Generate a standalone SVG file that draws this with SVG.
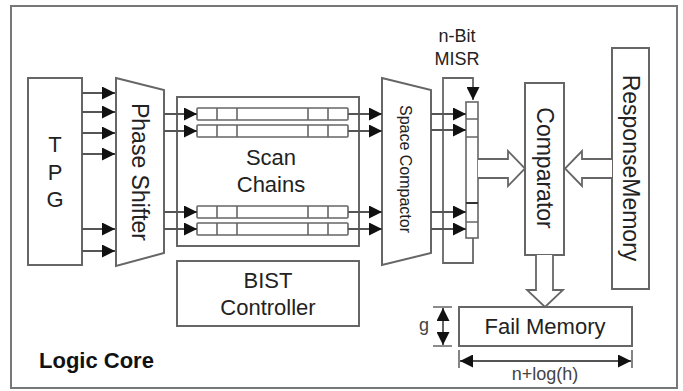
<svg xmlns="http://www.w3.org/2000/svg" width="683" height="391" viewBox="0 0 683 391">
  <defs>
    <marker id="arrow" markerUnits="userSpaceOnUse" markerWidth="13" markerHeight="13" refX="13" refY="6.5" orient="auto-start-reverse">
      <path d="M0,0 L13,6.5 L0,13 z" fill="#111"/>
    </marker>
    <style>
      .box { fill: #fff; stroke: #666; stroke-width: 2; }
      .cell { fill: #fff; stroke: #666; stroke-width: 1.6; }
      .div { stroke: #666; stroke-width: 1.6; }
      .wire { fill: none; stroke: #555; stroke-width: 1.8; marker-end: url(#arrow); }
      .dim { fill: none; stroke: #555; stroke-width: 1.8; marker-start: url(#arrow); marker-end: url(#arrow); }
      .tick { stroke: #666; stroke-width: 1.6; }
      .block { fill: #fff; stroke: #666; stroke-width: 1.8; stroke-linejoin: miter; }
      .lbl { font-family: "Liberation Sans", Arial, sans-serif; fill: #222; text-anchor: middle; }
      .big { font-size: 22px; }
      .small { font-size: 18px; fill: #444; }
    </style>
  </defs>

  <rect width="683" height="391" fill="#fff"/>

  <!-- logic core frame -->
  <g id="logic-core">
    <rect x="11" y="6" width="666" height="382" fill="none" stroke="#777" stroke-width="2"/>
    <text class="lbl" x="39" y="368" style="text-anchor:start;font-size:22px;font-weight:bold;fill:#111">Logic Core</text>
  </g>

  <!-- test pattern generator -->
  <g id="tpg">
    <rect class="box" x="28" y="78" width="54" height="187"/>
    <text class="lbl big" x="55" y="152">T</text>
    <text class="lbl big" x="55" y="180">P</text>
    <text class="lbl big" x="55" y="207">G</text>
  </g>

  <!-- phase shifter -->
  <g id="phase-shifter">
    <polygon class="box" points="116,78 164,90 164,253 116,266"/>
    <text class="lbl" x="140" y="172" dy="0.35em" font-size="23" transform="rotate(90 140 172)">Phase Shifter</text>
  </g>

  <!-- scan chains -->
  <g id="scan-chains">
    <rect class="box" x="177" y="97" width="182" height="149"/>
    <g id="chain-1">
      <rect class="cell" x="197" y="108" width="151" height="12" rx="1"/>
      <path class="div" d="M217,108V120M237,108V120M308,108V120M328,108V120"/>
    </g>
    <g id="chain-2">
      <rect class="cell" x="197" y="125" width="151" height="12" rx="1"/>
      <path class="div" d="M217,125V137M237,125V137M308,125V137M328,125V137"/>
    </g>
    <g id="chain-3">
      <rect class="cell" x="197" y="206" width="151" height="12" rx="1"/>
      <path class="div" d="M217,206V218M237,206V218M308,206V218M328,206V218"/>
    </g>
    <g id="chain-4">
      <rect class="cell" x="197" y="223" width="151" height="12" rx="1"/>
      <path class="div" d="M217,223V235M237,223V235M308,223V235M328,223V235"/>
    </g>
    <text class="lbl big" x="271" y="165">Scan</text>
    <text class="lbl big" x="271" y="192">Chains</text>
  </g>

  <!-- BIST controller -->
  <g id="bist-controller">
    <rect class="box" x="177" y="261" width="182" height="65"/>
    <text class="lbl big" x="268" y="288">BIST</text>
    <text class="lbl big" x="268" y="315">Controller</text>
  </g>

  <!-- space compactor -->
  <g id="space-compactor">
    <polygon class="box" points="382,78 431,90 431,253 382,265"/>
    <text class="lbl" x="406" y="169" dy="0.35em" font-size="16" fill="#333" transform="rotate(90 406 169)">Space Compactor</text>
  </g>

  <!-- n-bit MISR with feedback loop -->
  <g id="misr">
    <text class="lbl" x="457" y="42" font-size="18" fill="#333">n-Bit</text>
    <text class="lbl" x="457" y="65" font-size="18" fill="#333">MISR</text>
    <path d="M473,238 V263 H443 V78 H473 V100" fill="none" stroke="#666" stroke-width="1.8" marker-end="url(#arrow)"/>
    <rect class="cell" x="466" y="102" width="12" height="136"/>
    <path class="div" d="M466,119H478M466,137H478M466,222H478"/>
    <path d="M466,203H478" stroke="#333" stroke-width="2"/>
  </g>

  <!-- comparator -->
  <g id="comparator">
    <rect class="box" x="525" y="83" width="39" height="172"/>
    <text class="lbl" x="545" y="168" dy="0.35em" font-size="23" transform="rotate(90 545 168)">Comparator</text>
  </g>

  <!-- response memory -->
  <g id="response-memory">
    <rect class="box" x="612" y="48" width="37" height="241"/>
    <text class="lbl" x="631" y="168" dy="0.35em" font-size="23" transform="rotate(90 631 168)">ResponseMemory</text>
  </g>

  <!-- fail memory with dimensions -->
  <g id="fail-memory">
    <rect class="box" x="459" y="307" width="173" height="39"/>
    <text class="lbl big" x="545" y="334">Fail Memory</text>
    <path class="tick" d="M433,307H452M433,346H452"/>
    <path class="dim" d="M443,308V345"/>
    <text class="lbl small" x="424" y="331">g</text>
    <path class="tick" d="M459,350V368M632,350V368"/>
    <path class="dim" d="M460,361H631"/>
    <text class="lbl small" x="545" y="380">n+log(h)</text>
  </g>

  <!-- connectors -->
  <g id="connectors">
    <!-- TPG to phase shifter -->
    <path class="wire" d="M82,93H115"/>
    <path class="wire" d="M82,112H115"/>
    <path class="wire" d="M82,133H115"/>
    <path class="wire" d="M82,154H115"/>
    <path class="wire" d="M82,229H115"/>
    <path class="wire" d="M82,251H115"/>
    <!-- phase shifter to scan chains -->
    <path class="wire" d="M164,114H197"/>
    <path class="wire" d="M164,131H197"/>
    <path class="wire" d="M164,212H197"/>
    <path class="wire" d="M164,229H197"/>
    <!-- scan chains to space compactor -->
    <path class="wire" d="M348,114H382"/>
    <path class="wire" d="M348,131H382"/>
    <path class="wire" d="M348,212H382"/>
    <path class="wire" d="M348,229H382"/>
    <!-- space compactor to MISR -->
    <path class="wire" d="M431,114H466"/>
    <path class="wire" d="M431,130H466"/>
    <path class="wire" d="M431,212H466"/>
    <path class="wire" d="M431,229H466"/>
    <!-- block arrows -->
    <path class="block" d="M478,159 H508 V151 L525,168.5 L508,186 V178 H478"/>
    <path class="block" d="M612,159 H582 V151 L565,168.5 L582,186 V178 H612"/>
    <path class="block" d="M536,255 V290 H527 L545,307 L563,290 H553 V255"/>
  </g>
</svg>
